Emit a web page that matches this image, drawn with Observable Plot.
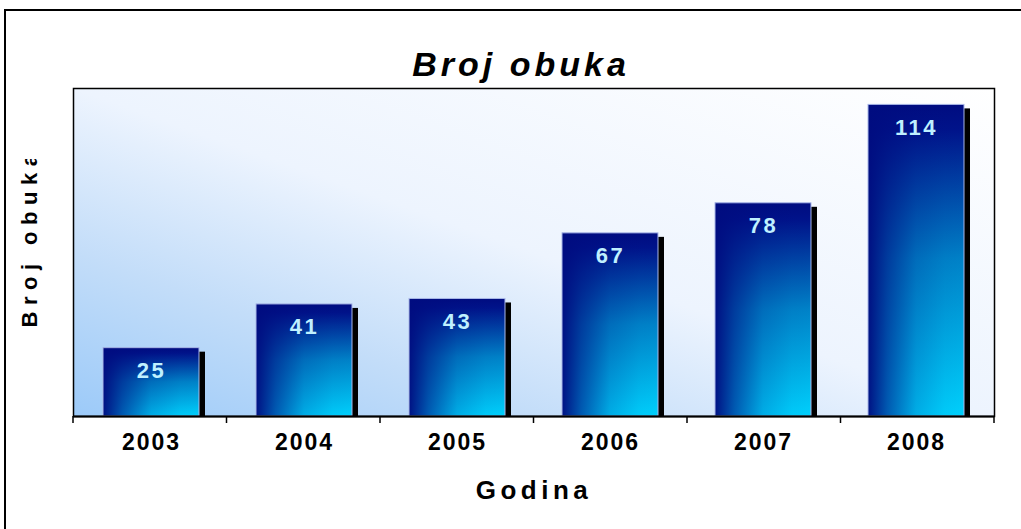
<!DOCTYPE html>
<html>
<head>
<meta charset="utf-8">
<script src="https://cdn.jsdelivr.net/npm/d3@7"></script>
<script src="https://cdn.jsdelivr.net/npm/@observablehq/plot@0.6"></script>
<style>
  html, body { margin: 0; padding: 0; background: #fff; overflow: hidden; }
  #wrap { position: relative; width: 1021px; height: 529px; }
  #border { position: absolute; left: 4px; top: 9px; width: 1100px; height: 600px;
            border: 2px solid #000; pointer-events: none; box-sizing: border-box; }
  svg { display: block; }
</style>
</head>
<body>
<div id="wrap"><div id="border"></div></div>
<script>
const titleText = "Broj obuka";
const xTitle = "Godina";
const yTitle = "Broj obuka";
const years = ["2003", "2004", "2005", "2006", "2007", "2008"];
const counts = [25, 41, 43, 67, 78, 114];
const data = years.map((year, i) => ({year, count: counts[i]}));

const FONT = "'Liberation Sans', Arial, sans-serif";

function defsMark(index, scales, values, dimensions) {
  const defs = d3.create("svg:defs");
  const bg = defs.append("linearGradient").attr("id", "bgGrad")
    .attr("x1", 0).attr("y1", 1).attr("x2", 1).attr("y2", 0);
  [[0, "#9ccaf9"], [0.25, "#c3ddf9"], [0.5, "#edf4fe"], [1, "#ffffff"]]
    .forEach(([o, c]) => bg.append("stop").attr("offset", o).attr("stop-color", c));
  const v = defs.append("linearGradient").attr("id", "barV")
    .attr("x1", 0).attr("y1", 0).attr("x2", 0).attr("y2", 1);
  [[0, "#000c80"], [0.08, "#00138a"], [0.5, "#0082c8"], [1, "#00d0fc"]]
    .forEach(([o, c]) => v.append("stop").attr("offset", o).attr("stop-color", c));
  const h = defs.append("linearGradient").attr("id", "barH")
    .attr("x1", 0).attr("y1", 0).attr("x2", 1).attr("y2", 0);
  [[0, 0.97], [0.2, 0.6], [0.5, 0.18], [0.8, 0.03], [1, 0]]
    .forEach(([o, a]) => h.append("stop").attr("offset", o)
      .attr("stop-color", "#000c80").attr("stop-opacity", a));
  // clip for the y-axis title (as in the original, its last letter is cut off)
  const {height, marginTop} = dimensions;
  defs.append("clipPath").attr("id", "yTitleClip").attr("clipPathUnits", "userSpaceOnUse")
    .append("rect").attr("x", 0).attr("y", marginTop + 71)
    .attr("width", 72).attr("height", height);
  return defs.node();
}

function bandTicks(index, scales, values, dimensions) {
  const {width, height, marginLeft, marginRight, marginBottom} = dimensions;
  const n = years.length;
  const step = (width - marginLeft - marginRight) / n;
  const y0 = height - marginBottom;
  const g = d3.create("svg:g");
  g.selectAll("line").data(d3.range(n + 1)).join("line")
    .attr("x1", i => marginLeft + i * step).attr("x2", i => marginLeft + i * step)
    .attr("y1", y0).attr("y2", y0 + 7)
    .attr("stroke", "#000").attr("stroke-width", 1.5);
  return g.node();
}

const chart = Plot.plot({
  width: 1021,
  height: 529,
  marginLeft: 73,
  marginRight: 27,
  marginTop: 88,
  marginBottom: 113,
  style: {background: "transparent", fontFamily: FONT, overflow: "visible"},
  x: {domain: years, paddingInner: 0.374, paddingOuter: 0.187, axis: null},
  y: {domain: [0, 120], axis: null},
  marks: [
    defsMark,
    Plot.frame({fill: "url(#bgGrad)", stroke: null}),
    Plot.barY(data, {x: "year", y: "count", fill: "#000", dx: 6, dy: 4, insetBottom: 4}),
    Plot.barY(data, {x: "year", y: "count", fill: "url(#barV)"}),
    Plot.barY(data, {x: "year", y: "count", fill: "url(#barH)", stroke: "#aab8e8", strokeWidth: 1}),
    Plot.text(data, {x: "year", y: "count", text: d => String(d.count), dy: 23,
      fill: "#bff0ff", fontSize: 22, fontWeight: "bold"}),
    Plot.frame({stroke: "#000", strokeWidth: 1.5}),
    Plot.ruleY([0], {stroke: "#000", strokeWidth: 2}),
    bandTicks,
    Plot.text(years, {x: d => d, frameAnchor: "bottom", dy: 33.5, text: d => d,
      fill: "#000", fontSize: 23, fontWeight: "bold"}),
    Plot.text([xTitle], {frameAnchor: "bottom", dy: 82.7, text: d => d,
      fill: "#000", fontSize: 26, fontWeight: "bold"}),
    Plot.text([titleText], {frameAnchor: "top", dy: -37, dx: -13, text: d => d,
      fill: "#000", fontSize: 34, fontWeight: "bold", fontStyle: "italic"}),
    Plot.text([yTitle], {frameAnchor: "left", dx: -44, dy: 75, rotate: -90, textAnchor: "start",
      text: d => d, fill: "#000", fontSize: 22, fontWeight: "bold"})
  ]
});

// letter spacing on text groups (style only)
const svg = d3.select(chart);
const textGroups = svg.selectAll("g[aria-label='text']").nodes();
const spacings = [2.5, 2, 4.5, 4, 6.5];
textGroups.forEach((g, i) => d3.select(g).style("letter-spacing", spacings[i] + "px"));
// wrap the y title in an untransformed group so the clip is in page coordinates
const yg = textGroups[4];
const wrapper = document.createElementNS("http://www.w3.org/2000/svg", "g");
wrapper.setAttribute("clip-path", "url(#yTitleClip)");
yg.parentNode.insertBefore(wrapper, yg);
wrapper.appendChild(yg);

document.getElementById("wrap").prepend(chart);
</script>
</body>
</html>
